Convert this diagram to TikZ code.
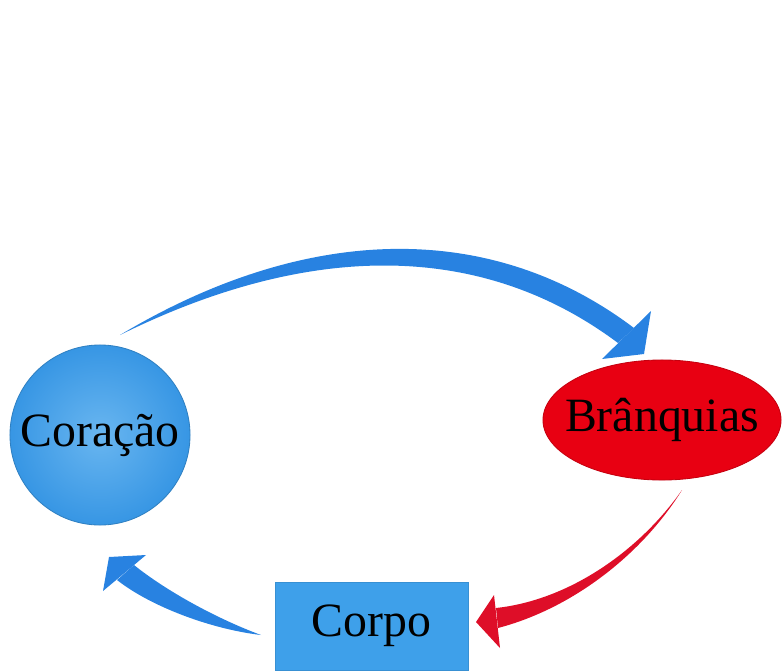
\documentclass[tikz,border=0pt]{standalone}
\usepackage{fontspec}
\setmainfont{Liberation Serif}
\usepackage{tikz}
\usetikzlibrary{shapes.geometric}

\definecolor{heartblue}{RGB}{55,150,228}
\definecolor{heartlight}{RGB}{105,182,240}
\definecolor{flowblue}{RGB}{40,130,225}
\definecolor{gillred}{RGB}{232,0,18}
\definecolor{flowred}{RGB}{222,14,40}
\definecolor{bodyblue}{RGB}{62,160,234}

\tikzstyle{organ} = [text=black, font=\fontsize{34}{40}\selectfont, inner sep=0pt]
\tikzstyle{heartnode} = [organ, circle, minimum size=4.5cm, draw=heartblue!85!black, line width=0.6pt, inner color=heartlight, outer color=heartblue]
\tikzstyle{gillsnode} = [organ, ellipse, minimum width=5.95cm, minimum height=3cm, inner xsep=-10pt, fill=gillred, draw=gillred!85!black, line width=0.6pt]
\tikzstyle{bodynode} = [organ, rectangle, minimum width=4.825cm, minimum height=2.2cm, fill=bodyblue, draw=bodyblue!90!black, line width=0.6pt]
\tikzstyle{blueflow} = [fill=flowblue]
\tikzstyle{redflow} = [fill=flowred]

\begin{document}
\begin{tikzpicture}[x=0.025cm, y=-0.025cm]
\useasboundingbox (0,0) rectangle (782,671);

\node (heart) [heartnode] at (100,435) {Coração};

\node (gills) [gillsnode] at (662,420) {Brânquias};

\node (body) [bodynode] at (371.5,626) {Corpo};

% heart -> gills
\coordinate (hg tail) at (120,335);
\coordinate (hg up) at (634,328);
\coordinate (hg low) at (618,343);
\coordinate (hg tip) at (644,354);
\coordinate (hg barb1) at (651,311);
\coordinate (hg barb2) at (602,359);
\fill [blueflow] (hg tail) .. controls (302,226) and (487,217) .. (hg up)
  -- (hg low) .. controls (475,236) and (300,246) .. (hg tail) -- cycle;
\fill [blueflow] (hg barb1) -- (hg tip) -- (hg barb2) -- cycle;

% gills -> body
\coordinate (gb tail) at (682,490);
\coordinate (gb up) at (496,608);
\coordinate (gb low) at (498,628);
\coordinate (gb tip) at (476,622);
\coordinate (gb barb1) at (494,595);
\coordinate (gb barb2) at (500,648);
\fill [redflow] (gb tail) .. controls (640,550) and (570,600) .. (gb up)
  -- (gb low) .. controls (574,608) and (643,553) .. (gb tail) -- cycle;
\fill [redflow] (gb barb1) -- (gb tip) -- (gb barb2) -- cycle;

% body -> heart
\coordinate (bh tail) at (261,635);
\coordinate (bh up) at (134,565);
\coordinate (bh low) at (117,580);
\coordinate (bh tip) at (109,557);
\coordinate (bh barb1) at (146,555);
\coordinate (bh barb2) at (103,591);
\fill [blueflow] (bh tail) .. controls (215,618) and (165,590) .. (bh up)
  -- (bh low) .. controls (150,606) and (210,629) .. (bh tail) -- cycle;
\fill [blueflow] (bh barb1) -- (bh tip) -- (bh barb2) -- cycle;

\end{tikzpicture}
\end{document}
